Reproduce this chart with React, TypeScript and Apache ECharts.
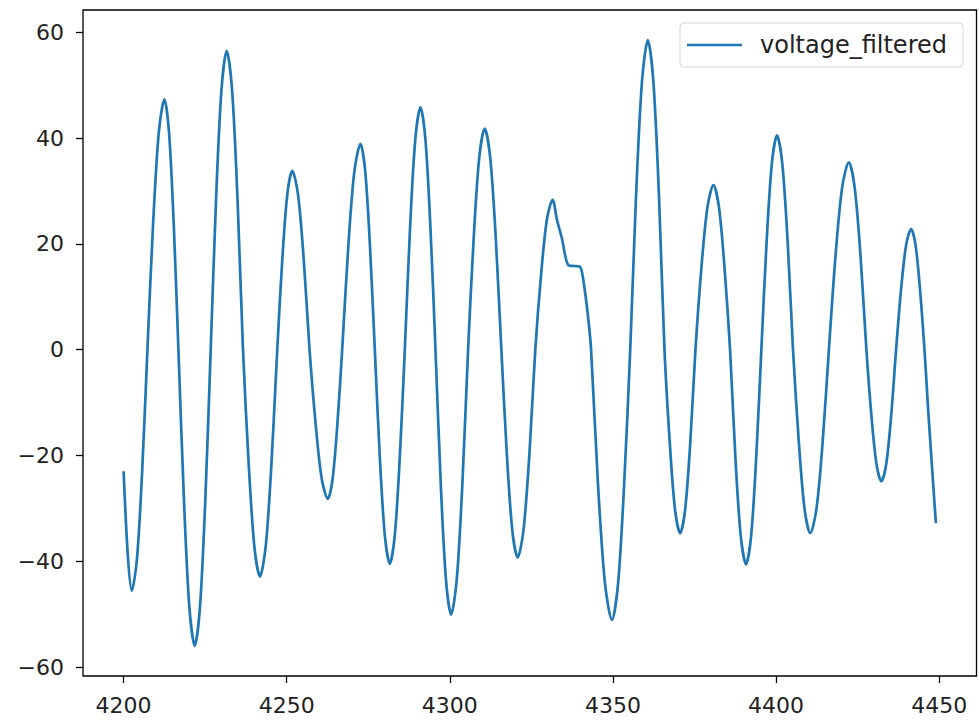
import React, { useEffect, useRef } from "react";
import * as echarts from "echarts";

// sample positions (x): extrema, zero crossings, flank points, shoulder
const times: number[] = [
  4200, 4201.3, 4202.5, 4204.1, 4205.7, 4207.3, 4209.03, 4210.77, 4212.5, 4213.93,
  4215.37, 4216.8, 4218.47, 4220.13, 4221.8, 4223.43, 4225.07, 4226.7, 4228.33, 4229.97,
  4231.6, 4233.27, 4234.93, 4236.6, 4238.33, 4240.07, 4241.8, 4243.57, 4245.33, 4247.1,
  4248.63, 4250.17, 4251.7, 4253.47, 4255.23, 4257.0, 4258.87, 4260.73, 4262.6, 4264.07,
  4265.53, 4267.0, 4268.87, 4270.73, 4272.6, 4274.07, 4275.53, 4277.0, 4278.53, 4280.07,
  4281.6, 4283.13, 4284.67, 4286.2, 4287.8, 4289.4, 4291.0, 4292.53, 4294.07, 4295.6,
  4297.2, 4298.8, 4300.4, 4302.13, 4303.87, 4305.6, 4307.3, 4309.0, 4310.7, 4312.4,
  4314.1, 4315.8, 4317.47, 4319.13, 4320.8, 4322.6, 4324.4, 4326.2, 4327.97, 4329.73,
  4331.5, 4332.9, 4334.3, 4336.4, 4338.2, 4340.0, 4341.3, 4342.5, 4343.3, 4345.43,
  4347.57, 4349.7, 4351.57, 4353.43, 4355.3, 4357.1, 4358.9, 4360.7, 4362.4, 4364.1,
  4365.8, 4367.4, 4369.0, 4370.6, 4372.17, 4373.73, 4375.3, 4377.13, 4378.97, 4380.8,
  4382.5, 4384.2, 4385.9, 4387.53, 4389.17, 4390.8, 4392.37, 4393.93, 4395.5, 4397.1,
  4398.7, 4400.3, 4401.93, 4403.57, 4405.2, 4406.97, 4408.73, 4410.5, 4412.4, 4414.3,
  4416.2, 4418.23, 4420.27, 4422.3, 4424.1, 4425.9, 4427.7, 4429.23, 4430.77, 4432.3,
  4433.8, 4435.3, 4436.8, 4438.33, 4439.87, 4441.4, 4442.77, 4444.13, 4445.5, 4446.7,
  4447.9, 4449,
];
// voltage_filtered values at those positions
const voltageFiltered: number[] = [
  -23, -39, -45.6, -39.5, -22.8, 0, 23.65, 41.0, 47.3, 41.0,
  23.65, 0, -28.0, -48.5, -56.0, -48.5, -28.0, 0, 28.25, 48.9,
  56.5, 48.9, 28.25, 0, -21.45, -37.15, -42.9, -37.15, -21.45, 0,
  16.9, 29.27, 33.8, 29.27, 16.9, 0, -14.1, -24.42, -28.2, -24.42,
  -14.1, 0, 19.45, 33.69, 38.9, 33.69, 19.45, 0, -20.25, -35.07,
  -40.5, -35.07, -20.25, 0, 22.9, 39.66, 45.8, 39.66, 22.9, 0,
  -25.05, -43.39, -50.1, -43.39, -25.05, 0, 20.9, 36.2, 41.8, 36.2,
  20.9, 0, -19.65, -34.03, -39.3, -34.03, -19.65, 0, 14.15, 24.5,
  28.3, 24.4, 21.2, 15.9, 15.8, 15.6, 11.5, 5.5, 0, -25.55,
  -44.25, -51.1, -44.25, -25.55, 0, 29.25, 50.66, 58.5, 50.66, 29.25,
  0, -17.35, -30.05, -34.7, -30.05, -17.35, 0, 15.55, 26.93, 31.1,
  26.93, 15.55, 0, -20.3, -35.16, -40.6, -35.16, -20.3, 0, 20.25,
  35.07, 40.5, 35.07, 20.25, 0, -17.35, -30.05, -34.7, -30.05, -17.35,
  0, 17.7, 30.66, 35.4, 30.66, 17.7, 0, -12.45, -21.56, -24.9,
  -21.56, -12.45, 0, 11.4, 19.75, 22.8, 19.75, 11.4, 0, -12,
  -23, -32.8,
];
const xTicks: number[] = [4200, 4250, 4300, 4350, 4400, 4450];
const yTicks: number[] = [-60, -40, -20, 0, 20, 40, 60];
const seriesName = "voltage_filtered";

export default function App() {
  const ref = useRef<HTMLDivElement>(null);
  useEffect(() => {
    if (!ref.current) return;
    const chart = echarts.init(ref.current, undefined, { renderer: "svg" });
    const font = "DejaVu Sans";
    chart.setOption({
      animation: false,
      backgroundColor: "#ffffff",
      grid: {
        left: 83,
        right: 2.5,
        top: 10,
        bottom: 47,
        show: true,
        borderColor: "#000",
        borderWidth: 1.3,
        backgroundColor: "transparent",
      },
      legend: {
        show: true,
        left: 680,
        top: 23,
        orient: "vertical",
        padding: [8, 10, 8, 7],
        backgroundColor: "rgba(255,255,255,0.8)",
        borderColor: "#d5d5d5",
        borderWidth: 1,
        borderRadius: 4,
        itemWidth: 55,
        itemHeight: 20,
        data: [{ name: seriesName, icon: "path://M0,9 L55,9 L55,11.6 L0,11.6 Z", itemStyle: { color: "#1f77b4" } }],
        textStyle: {
          fontFamily: font,
          fontSize: 24,
          color: "#222",
          padding: [0, 6, 0, 13],
          lineHeight: 28,
        },
      },
      xAxis: {
        type: "value",
        min: 4187.55,
        max: 4461.45,
        axisLine: { show: false, onZero: false },
        splitLine: { show: false },
        axisTick: {
          show: true,
          length: 7,
          customValues: xTicks,
          lineStyle: { color: "#000", width: 1.3 },
        },
        axisLabel: {
          customValues: xTicks,
          fontFamily: font,
          fontSize: 22,
          color: "#222",
          margin: 18,
          formatter: (v: number) => String(v),
        },
      },
      yAxis: {
        type: "value",
        min: -61.7,
        max: 64.2,
        axisLine: { show: false, onZero: false },
        splitLine: { show: false },
        axisTick: {
          show: true,
          length: 7,
          customValues: yTicks,
          lineStyle: { color: "#000", width: 1.3 },
        },
        axisLabel: {
          customValues: yTicks,
          fontFamily: font,
          fontSize: 22,
          color: "#222",
          margin: 19,
          formatter: (v: number) => (v < 0 ? "\u2212" + Math.abs(v) : String(v)),
        },
      },
      series: [
        {
          name: seriesName,
          type: "line",
          data: times.map((t, i) => [t, voltageFiltered[i]]),
          smooth: 0.3,
          symbol: "none",
          showSymbol: false,
          lineStyle: { color: "#1f77b4", width: 2.7 },
          itemStyle: { color: "#1f77b4" },
        },
      ],
    });
    return () => chart.dispose();
  }, []);
  return (
    <div
      ref={ref}
      style={{ position: "fixed", left: 0, top: 0, width: 979, height: 723, background: "#fff" }}
    />
  );
}
